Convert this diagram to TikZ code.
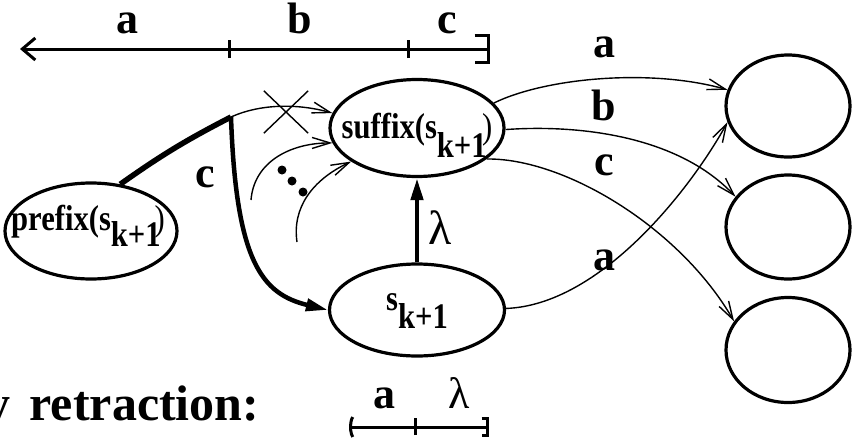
\documentclass[tikz,border=0pt]{standalone}
\usepackage{fontspec}
\usepackage{graphicx}
\setmainfont{Liberation Serif}
\usetikzlibrary{positioning,arrows.meta,shapes.geometric,shapes.misc}
\tikzset{
  state/.style={draw=black,line width=3.2pt,ellipse,inner sep=0pt,
                font=\fontsize{36}{36}\selectfont\bfseries},
  lbl/.style={font=\fontsize{44}{44}\selectfont\bfseries,anchor=base,inner sep=0pt},
  greek/.style={font=\fontsize{48}{48}\selectfont,anchor=base,inner sep=0pt},
  edge/.style={-{Straight Barb[length=18pt,width=11pt]},line width=1.4pt},
  hard/.style={-{Triangle[length=22pt,width=12pt]},line width=4.5pt},
  bar/.style={line width=3pt},
}
\newcommand{\ksub}[1]{\raisebox{-#1em}{k+1}}
\newcommand{\narrow}[2][0pt]{\makebox[0pt]{\hspace*{#1}\scalebox{0.85}[1]{#2}}}

\begin{document}
\begin{tikzpicture}[x=1pt,y=-1pt]
  \useasboundingbox (0,0) rectangle (858,439);
  % ===== states =====
  \node[state,minimum width=172pt,minimum height=96pt,text height=10pt,text depth=12pt]
       (prefix) at (91,231) {\narrow[-6pt]{prefix(s\ksub{0.45}\kern-0.2em\mdseries)}};
  \node[state,minimum width=174pt,minimum height=97pt,text height=22pt,text depth=2pt]
       (suffix) at (417,128) {\narrow{suffix(s\ksub{0.55}\kern-0.15em\mdseries)}};
  \node[state,minimum width=175pt,minimum height=92pt,text height=12pt,text depth=12pt]
       (sk) at (417,310) {\narrow{s\ksub{0.5}}};
  \node[state,minimum width=124pt,minimum height=102pt] (t1) at (788,106) {};
  \node[state,minimum width=124pt,minimum height=104pt] (t2) at (788,227) {};
  \node[state,minimum width=124pt,minimum height=105pt] (t3) at (788,350) {};

  % ===== retraction along c =====
  \coordinate (corner) at (231,117);
  \draw[line width=5.5pt,line join=miter] (prefix.58) to[bend left=4] (corner);
  \draw[hard] (corner) .. controls (236,262) and (262,294) .. (sk.west);
  \node[lbl] (lc) at (205,187) {c};
  \draw[edge] (corner) .. controls (262,103) and (300,104) .. (suffix.170);
  \node[cross out,draw,line width=1.4pt,minimum width=43pt,minimum height=41pt]
       (xmark) at (286,112) {};
  \coordinate (in1) at (251,200);
  \coordinate (in2) at (297,242);
  \draw[edge] (in1) .. controls (254,162) and (290,143) .. (suffix.190);
  \draw[edge] (in2) .. controls (292,208) and (312,180) .. (suffix.207);
  \foreach \px/\py in {282/170,292/181,303/192}
    \fill (\px,\py) circle (4.5pt);
  \draw[hard] (sk.north) -- (suffix.south);
  \node[greek,anchor=base west] (llam) at (428,244) {λ};

  % ===== outgoing transitions =====
  \draw[edge] (suffix.18) .. controls (545,78) and (650,68) .. (t1.165);
  \draw[edge] (suffix.-1) .. controls (585,124) and (680,138) .. (t2.150);
  \draw[edge] (suffix.-24) .. controls (565,158) and (680,228) .. (t3.152);
  \draw[edge] (sk.1) .. controls (600,305) and (690,190) .. (t1.195);
  \node[lbl] (la1) at (604,57) {a};
  \node[lbl] (lb)  at (604,120) {b};
  \node[lbl] (lc2) at (604,175) {c};
  \node[lbl] (la2) at (604,270) {a};

  % ===== top bar: a b c =====
  \coordinate (top0) at (20,49);
  \coordinate (top1) at (229,49);
  \coordinate (top2) at (408,49);
  \coordinate (top3) at (490,49);
  \draw[bar,{Straight Barb[length=13pt,width=22pt]}-{Bracket[length=14pt,width=30pt]}] (top0) -- (top3);
  \foreach \t in {top1,top2}
    \draw[bar] ([yshift=-9pt]\t) -- ([yshift=9pt]\t);
  \node[lbl] (ta) at (127,33) {a};
  \node[lbl] (tb) at (300,33) {b};
  \node[lbl] (tc) at (447,33) {c};

  % ===== bottom bar: a lambda =====
  \node[lbl,anchor=base west,font=\fontsize{50}{50}\selectfont\bfseries]
       (ret) at (-15,420) {y\hspace{7pt} retraction:};
  \coordinate (bot0) at (349,427);
  \coordinate (bot1) at (415,427);
  \coordinate (bot2) at (489,427);
  \draw[bar,{Parenthesis[length=6pt,width=26pt]}-{Bracket[length=6pt,width=20pt]}] (bot0) -- (bot2);
  \draw[bar] ([yshift=-8pt]bot1) -- ([yshift=9pt]bot1);
  \node[lbl] (ba) at (384,408) {a};
  \node[greek,font=\fontsize{44}{44}\selectfont] (bl) at (459,408) {λ};
\end{tikzpicture}
\end{document}
